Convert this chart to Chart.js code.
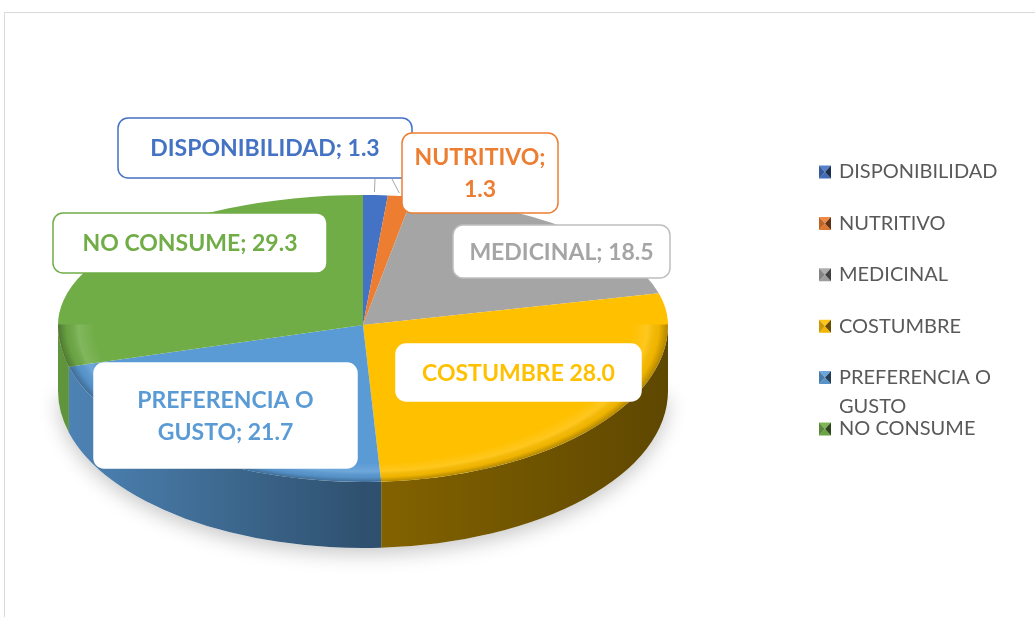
<!DOCTYPE html>
<html>
<head>
<meta charset="utf-8">
<script src="https://cdn.jsdelivr.net/npm/chart.js@4.4.0/dist/chart.umd.min.js"></script>
<style>
    html, body { margin: 0; padding: 0; background: #fff; }
    #wrap { position: relative; width: 1035px; height: 617px; overflow: hidden; }
    #frame { position: absolute; left: 4px; top: 12px; width: 1100px; height: 700px; border: 1px solid #d9d9d9; box-sizing: border-box; }
    canvas { position: absolute; left: 0; top: 0; }
</style>
</head>
<body>
<div id="wrap">
    <div id="frame"></div>
    <canvas id="pieChart" width="1035" height="617"></canvas>
</div>
<script>
// Chart data
const categories = ['DISPONIBILIDAD', 'NUTRITIVO', 'MEDICINAL', 'COSTUMBRE', 'PREFERENCIA O GUSTO', 'NO CONSUME'];
const values = [1.3, 1.3, 18.5, 28.0, 21.7, 29.3];
const separators = [';', ';', ';', '', ';', ';'];
const sliceColors = ['#4472C4', '#ED7D31', '#A5A5A5', '#FFC000', '#5B9BD5', '#70AD47'];

// Layout of the callout boxes (placed by hand in the original)
const callouts = [
    { x: 118, y: 118, w: 294, h: 60, maxW: 285, border: '#4472C4', leader: [375, 179] },
    { x: 402, y: 133, w: 156, h: 80, maxW: 140, border: '#ED7D31', leader: [392, 179] },
    { x: 453, y: 225, w: 217, h: 53, maxW: 210, border: '#BFBFBF' },
    { x: 396, y: 344, w: 245, h: 57, maxW: 240, border: '#FFFFFF' },
    { x: 94, y: 363, w: 263, h: 105, maxW: 200, border: '#FFFFFF' },
    { x: 53, y: 213, w: 274, h: 60, maxW: 270, border: '#70AD47' }
];

// fake perspective: back half flatter than the front half
const apexY = 325;
const backRy = 130;
const frontRy = 157;
const depth = 66;
const labelFont = 'bold 23px Lato';
const legendFont = '20px Lato';

function shade(hex, f) {
    const n = parseInt(hex.slice(1), 16);
    let rgb = [(n >> 16) & 255, (n >> 8) & 255, n & 255];
    rgb = rgb.map(v => f <= 1 ? Math.round(v * f) : Math.round(v + (255 - v) * (f - 1)));
    return `rgb(${rgb.join(',')})`;
}

function roundRect(c, x, y, w, h, r) {
    c.beginPath();
    c.moveTo(x + r, y);
    c.arcTo(x + w, y, x + w, y + h, r);
    c.arcTo(x + w, y + h, x, y + h, r);
    c.arcTo(x, y + h, x, y, r);
    c.arcTo(x, y, x + w, y, r);
    c.closePath();
}

function wrapText(c, text, maxW) {
    const words = text.split(' ');
    const lines = [];
    let line = '';
    words.forEach(w => {
        const test = line ? line + ' ' + w : w;
        if (c.measureText(test).width > maxW && line) {
            lines.push(line);
            line = w;
        } else {
            line = test;
        }
    });
    lines.push(line);
    return lines;
}

function pieGeom(chart) {
    const arcs = chart.getDatasetMeta(0).data;
    return { arcs, cx: arcs[0].x, cy: arcs[0].y, r: arcs[0].outerRadius };
}

function squash(c, cy, ry, r) {
    c.translate(0, apexY);
    c.scale(1, ry / r);
    c.translate(0, -cy);
}

// Fake 3D: flatten the pie and draw the rim below it
const pie3d = {
    id: 'pie3d',
    beforeDatasetsDraw(chart) {
        const c = chart.ctx;
        const { arcs, cx, cy, r } = pieGeom(chart);

        // soft shadow under the front
        c.save();
        c.beginPath();
        c.rect(0, apexY, chart.width, chart.height);
        c.clip();
        c.shadowColor = 'rgba(0,0,0,0.22)';
        c.shadowBlur = 20;
        c.shadowOffsetY = 6;
        c.fillStyle = '#fff';
        c.beginPath();
        c.ellipse(cx, apexY + depth, r, frontRy, 0, 0, Math.PI);
        c.fill();
        c.restore();

        // rim of the front slices
        arcs.forEach((arc, i) => {
            const a0 = Math.max(arc.startAngle, 0);
            const a1 = Math.min(arc.endAngle, Math.PI);
            if (a1 <= a0) return;
            const col = sliceColors[i];
            const g = c.createLinearGradient(cx - r, 0, cx + r, 0);
            g.addColorStop(0, shade(col, 0.86));
            g.addColorStop(0.5, shade(col, 0.52));
            g.addColorStop(1, shade(col, 0.37));
            c.beginPath();
            c.ellipse(cx, apexY, r, frontRy, 0, a0, a1, false);
            c.ellipse(cx, apexY + depth, r, frontRy, 0, a1, a0, true);
            c.closePath();
            c.fillStyle = g;
            c.fill();
        });

        // back half of the top face, drawn by Chart.js
        c.save();
        c.beginPath();
        c.rect(0, 0, chart.width, apexY + 0.5);
        c.clip();
        squash(c, cy, backRy, r);
    },
    afterDatasetsDraw(chart) {
        const c = chart.ctx;
        const { arcs, cx, cy, r } = pieGeom(chart);
        c.restore();

        // front half of the top face, same arc elements
        c.save();
        c.beginPath();
        c.rect(0, apexY - 0.5, chart.width, chart.height);
        c.clip();
        squash(c, cy, frontRy, r);
        arcs.forEach(arc => arc.draw(c));

        // bevel along the front edge of the top face
        const g = c.createRadialGradient(cx, cy, r * 0.88, cx, cy, r);
        g.addColorStop(0, 'rgba(255,255,255,0)');
        g.addColorStop(0.45, 'rgba(255,255,255,0.12)');
        g.addColorStop(0.75, 'rgba(0,0,0,0.06)');
        g.addColorStop(1, 'rgba(0,0,0,0.3)');
        c.beginPath();
        c.arc(cx, cy, r, 0, Math.PI * 2);
        c.fillStyle = g;
        c.fill();
        c.restore();
    }
};

const calloutPlugin = {
    id: 'callouts',
    afterDraw(chart) {
        const c = chart.ctx;
        const { arcs, cx, r } = pieGeom(chart);
        c.save();
        // leader lines for the thin slices
        c.strokeStyle = '#A6A6A6';
        c.lineWidth = 1;
        callouts.forEach((box, i) => {
            if (!box.leader) return;
            const m = (arcs[i].startAngle + arcs[i].endAngle) / 2;
            const px = cx + r * Math.cos(m);
            const py = apexY + backRy * Math.sin(m);
            c.beginPath();
            c.moveTo(box.leader[0], box.leader[1]);
            c.lineTo(px - 1, py - 3);
            c.stroke();
        });

        c.font = labelFont;
        c.textAlign = 'center';
        c.textBaseline = 'middle';
        callouts.forEach((box, i) => {
            roundRect(c, box.x, box.y, box.w, box.h, 10);
            c.fillStyle = '#fff';
            c.fill();
            c.strokeStyle = box.border;
            c.lineWidth = 1.5;
            c.stroke();
            const text = categories[i] + separators[i] + ' ' + values[i].toFixed(1);
            const lines = wrapText(c, text, box.maxW);
            const lh = 32;
            const y0 = box.y + box.h / 2 - (lines.length - 1) * lh / 2 + 1;
            c.fillStyle = sliceColors[i];
            lines.forEach((ln, k) => c.fillText(ln, box.x + box.w / 2, y0 + k * lh));
        });
        c.restore();
    }
};

const legendPlugin = {
    id: 'sideLegend',
    afterDraw(chart) {
        const c = chart.ctx;
        const x = 819, tx = 839, top = 172, step = 51.4;
        c.save();
        c.font = legendFont;
        c.textAlign = 'left';
        c.textBaseline = 'middle';
        chart.data.labels.forEach((lbl, i) => {
            const y = top + i * step;
            const col = sliceColors[i];
            const w = 12, h = 13, mx = x + w / 2, my = y;
            const x0 = x, y0 = y - h / 2;
            const tri = (pts, fill) => {
                c.beginPath();
                c.moveTo(pts[0], pts[1]);
                c.lineTo(pts[2], pts[3]);
                c.lineTo(pts[4], pts[5]);
                c.closePath();
                c.fillStyle = fill;
                c.fill();
            };
            tri([x0, y0, x0 + w, y0, mx, my], shade(col, 1.1));
            tri([x0, y0 + h, x0 + w, y0 + h, mx, my], shade(col, 0.95));
            tri([x0, y0, x0, y0 + h, mx, my], shade(col, 0.8));
            tri([x0 + w, y0, x0 + w, y0 + h, mx, my], shade(col, 0.4));
            c.fillStyle = '#595959';
            const lines = wrapText(c, lbl, 165);
            lines.forEach((ln, k) => c.fillText(ln, tx, y + k * 29));
        });
        c.restore();
    }
};

const ctx = document.getElementById('pieChart').getContext('2d');
new Chart(ctx, {
    type: 'pie',
    data: {
        labels: categories,
        datasets: [{
            data: values,
            backgroundColor: sliceColors,
            borderWidth: 0
        }]
    },
    options: {
        responsive: false,
        animation: false,
        events: [],
        layout: { padding: { left: 58, right: 367, top: 0, bottom: 0 } },
        plugins: {
            legend: { display: false },
            tooltip: { enabled: false }
        }
    },
    plugins: [pie3d, calloutPlugin, legendPlugin]
});
</script>
</body>
</html>
